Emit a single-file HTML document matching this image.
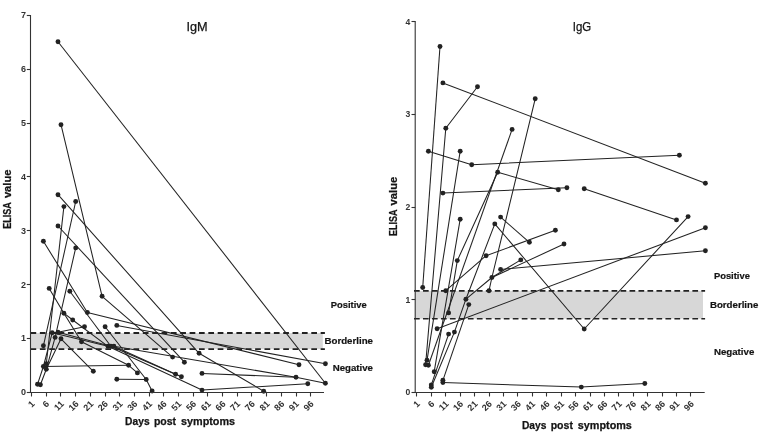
<!DOCTYPE html><html lang="en"><head><meta charset="utf-8"><title>ELISA IgM / IgG</title><style>html,body{margin:0;padding:0;background:#fff}svg{display:block;filter:grayscale(1)}</style></head><body><svg width="759" height="434" viewBox="0 0 759 434">
<rect width="759" height="434" fill="#ffffff"/>
<rect x="30.5" y="333.0" width="292.3" height="16.100000000000023" fill="#d6d7d9"/><g stroke="#222" stroke-width="1.95" stroke-dasharray="5.7 3.66" fill="none"><path d="M30.5 333.0H324.9"/><path d="M30.5 349.1H324.9"/></g>
<rect x="415.2" y="290.9" width="287.8" height="27.80000000000001" fill="#d6d7d9"/><g stroke="#222" stroke-width="1.6" stroke-dasharray="5.7 3.28" fill="none"><path d="M414.0 290.9H705.1"/><path d="M414.0 318.7H705.1"/></g>
<g fill="none" stroke="#222222" stroke-width="1.05" stroke-linejoin="round"><polyline points="58.0,41.8 325.4,383.2"/><polyline points="61.0,124.7 102.1,296.3 172.6,357.1"/><polyline points="58.0,194.7 199.1,353.3 263.7,391.2"/><polyline points="58.0,226.0 184.4,362.2"/><polyline points="43.4,241.3 87.4,312.5 299.0,364.7"/><polyline points="69.8,291.2 110.9,346.3"/><polyline points="49.2,288.4 63.9,313.2 81.5,341.8 128.6,365.3 137.4,372.9"/><polyline points="63.9,313.2 72.7,320.0 108.0,346.3"/><polyline points="37.5,384.3 43.4,366.5 52.2,332.8 58.0,332.3 84.5,326.7"/><polyline points="116.8,325.4 325.4,363.8"/><polyline points="105.1,326.7 146.2,379.5 152.1,391.0"/><polyline points="116.8,379.3 146.2,379.5"/><polyline points="113.9,346.3 175.6,374.3"/><polyline points="110.9,346.3 181.4,376.7"/><polyline points="108.0,346.3 202.0,390.1 307.8,383.7"/><polyline points="202.0,373.4 296.0,377.3"/><polyline points="52.2,332.8 108.0,346.3"/><polyline points="58.0,332.3 110.9,346.3"/><polyline points="113.9,346.3 296.0,377.3 325.4,383.2"/><polyline points="40.4,384.8 46.3,369.3 55.1,337.4 75.7,247.9"/><polyline points="43.4,345.8 75.7,201.5"/><polyline points="46.3,363.8 63.9,206.6"/><polyline points="43.4,366.5 128.6,365.3"/><polyline points="46.3,369.3 61.0,338.8 93.3,371.3"/></g><g fill="#222222"><circle cx="58.0" cy="41.8" r="2.45"/><circle cx="61.0" cy="124.7" r="2.45"/><circle cx="58.0" cy="194.7" r="2.45"/><circle cx="75.7" cy="201.5" r="2.45"/><circle cx="63.9" cy="206.6" r="2.45"/><circle cx="58.0" cy="226.0" r="2.45"/><circle cx="43.4" cy="241.3" r="2.45"/><circle cx="75.7" cy="247.9" r="2.45"/><circle cx="49.2" cy="288.4" r="2.45"/><circle cx="69.8" cy="291.2" r="2.45"/><circle cx="102.1" cy="296.3" r="2.45"/><circle cx="63.9" cy="313.2" r="2.45"/><circle cx="87.4" cy="312.5" r="2.45"/><circle cx="72.7" cy="320.0" r="2.45"/><circle cx="84.5" cy="326.7" r="2.45"/><circle cx="105.1" cy="326.7" r="2.45"/><circle cx="116.8" cy="325.4" r="2.45"/><circle cx="52.2" cy="332.8" r="2.45"/><circle cx="58.0" cy="332.3" r="2.45"/><circle cx="55.1" cy="337.4" r="2.45"/><circle cx="61.0" cy="338.8" r="2.45"/><circle cx="81.5" cy="341.8" r="2.45"/><circle cx="43.4" cy="345.8" r="2.45"/><circle cx="108.0" cy="346.3" r="2.45"/><circle cx="110.9" cy="346.3" r="2.45"/><circle cx="113.9" cy="346.3" r="2.45"/><circle cx="43.4" cy="366.5" r="2.45"/><circle cx="46.3" cy="363.8" r="2.45"/><circle cx="46.3" cy="369.3" r="2.45"/><circle cx="37.5" cy="384.3" r="2.45"/><circle cx="40.4" cy="384.8" r="2.45"/><circle cx="93.3" cy="371.3" r="2.45"/><circle cx="128.6" cy="365.3" r="2.45"/><circle cx="137.4" cy="372.9" r="2.45"/><circle cx="116.8" cy="379.3" r="2.45"/><circle cx="146.2" cy="379.5" r="2.45"/><circle cx="152.1" cy="391.0" r="2.45"/><circle cx="172.6" cy="357.1" r="2.45"/><circle cx="184.4" cy="362.2" r="2.45"/><circle cx="175.6" cy="374.3" r="2.45"/><circle cx="181.4" cy="376.7" r="2.45"/><circle cx="199.1" cy="353.3" r="2.45"/><circle cx="202.0" cy="373.4" r="2.45"/><circle cx="202.0" cy="390.1" r="2.45"/><circle cx="263.7" cy="391.2" r="2.45"/><circle cx="299.0" cy="364.7" r="2.45"/><circle cx="325.4" cy="363.8" r="2.45"/><circle cx="296.0" cy="377.3" r="2.45"/><circle cx="307.8" cy="383.7" r="2.45"/><circle cx="325.4" cy="383.2" r="2.45"/></g>
<g fill="none" stroke="#222222" stroke-width="1.05" stroke-linejoin="round"><polyline points="422.7,287.5 440.0,46.5"/><polyline points="442.9,82.9 705.4,183.2"/><polyline points="425.6,364.7 445.8,128.3 477.5,86.7"/><polyline points="428.4,151.2 471.7,164.7 679.4,155.3"/><polyline points="427.0,360.3 460.2,151.2"/><polyline points="428.4,365.3 512.1,129.4"/><polyline points="442.9,193.1 566.9,187.8"/><polyline points="584.2,188.8 676.5,219.9"/><polyline points="434.2,371.7 460.2,219.2"/><polyline points="500.6,217.1 529.4,242.3"/><polyline points="448.6,312.9 457.3,260.6 497.7,172.2 558.3,189.7"/><polyline points="445.8,290.7 486.1,255.7 555.4,230.3"/><polyline points="431.3,384.9 448.6,334.1"/><polyline points="431.3,387.2 454.4,332.1 465.9,299.2 494.8,223.9 584.2,329.0 688.1,216.6"/><polyline points="465.9,299.2 491.9,277.5 535.2,98.8"/><polyline points="491.9,277.5 564.0,244.0"/><polyline points="491.9,277.5 520.8,259.9"/><polyline points="489.0,290.7 491.9,277.5"/><polyline points="500.6,269.4 705.4,250.8"/><polyline points="437.1,328.7 705.4,227.7"/><polyline points="442.9,380.3 468.8,304.6"/><polyline points="442.9,382.5 581.3,387.1 644.8,383.5"/></g><g fill="#222222"><circle cx="440.0" cy="46.5" r="2.45"/><circle cx="442.9" cy="82.9" r="2.45"/><circle cx="477.5" cy="86.7" r="2.45"/><circle cx="535.2" cy="98.8" r="2.45"/><circle cx="445.8" cy="128.3" r="2.45"/><circle cx="512.1" cy="129.4" r="2.45"/><circle cx="428.4" cy="151.2" r="2.45"/><circle cx="460.2" cy="151.2" r="2.45"/><circle cx="471.7" cy="164.7" r="2.45"/><circle cx="497.7" cy="172.2" r="2.45"/><circle cx="442.9" cy="193.1" r="2.45"/><circle cx="558.3" cy="189.7" r="2.45"/><circle cx="566.9" cy="187.8" r="2.45"/><circle cx="584.2" cy="188.8" r="2.45"/><circle cx="460.2" cy="219.2" r="2.45"/><circle cx="500.6" cy="217.1" r="2.45"/><circle cx="494.8" cy="223.9" r="2.45"/><circle cx="555.4" cy="230.3" r="2.45"/><circle cx="529.4" cy="242.3" r="2.45"/><circle cx="486.1" cy="255.7" r="2.45"/><circle cx="457.3" cy="260.6" r="2.45"/><circle cx="520.8" cy="259.9" r="2.45"/><circle cx="500.6" cy="269.4" r="2.45"/><circle cx="491.9" cy="277.5" r="2.45"/><circle cx="422.7" cy="287.5" r="2.45"/><circle cx="445.8" cy="290.7" r="2.45"/><circle cx="489.0" cy="290.7" r="2.45"/><circle cx="465.9" cy="299.2" r="2.45"/><circle cx="468.8" cy="304.6" r="2.45"/><circle cx="448.6" cy="312.9" r="2.45"/><circle cx="437.1" cy="328.7" r="2.45"/><circle cx="454.4" cy="332.1" r="2.45"/><circle cx="448.6" cy="334.1" r="2.45"/><circle cx="425.6" cy="364.7" r="2.45"/><circle cx="428.4" cy="365.3" r="2.45"/><circle cx="427.0" cy="360.3" r="2.45"/><circle cx="434.2" cy="371.7" r="2.45"/><circle cx="431.3" cy="384.9" r="2.45"/><circle cx="431.3" cy="387.2" r="2.45"/><circle cx="442.9" cy="380.3" r="2.45"/><circle cx="442.9" cy="382.5" r="2.45"/><circle cx="679.4" cy="155.3" r="2.45"/><circle cx="705.4" cy="183.2" r="2.45"/><circle cx="676.5" cy="219.9" r="2.45"/><circle cx="688.1" cy="216.6" r="2.45"/><circle cx="705.4" cy="227.7" r="2.45"/><circle cx="705.4" cy="250.8" r="2.45"/><circle cx="564.0" cy="244.0" r="2.45"/><circle cx="584.2" cy="329.0" r="2.45"/><circle cx="581.3" cy="387.1" r="2.45"/><circle cx="644.8" cy="383.5" r="2.45"/></g>
<g stroke="#333" stroke-width="1.1" fill="none" stroke-linecap="butt"><path d="M30.5 15.0V392.5H324.0"/><path d="M26.8 392.50H30.5"/><path d="M26.8 338.50H30.5"/><path d="M26.8 284.50H30.5"/><path d="M26.8 230.50H30.5"/><path d="M26.8 176.50H30.5"/><path d="M26.8 123.50H30.5"/><path d="M26.8 69.50H30.5"/><path d="M26.8 15.50H30.5"/><path d="M31.50 392.5V396.5"/><path d="M46.50 392.5V396.5"/><path d="M60.50 392.5V396.5"/><path d="M75.50 392.5V396.5"/><path d="M90.50 392.5V396.5"/><path d="M105.50 392.5V396.5"/><path d="M119.50 392.5V396.5"/><path d="M134.50 392.5V396.5"/><path d="M149.50 392.5V396.5"/><path d="M163.50 392.5V396.5"/><path d="M178.50 392.5V396.5"/><path d="M193.50 392.5V396.5"/><path d="M207.50 392.5V396.5"/><path d="M222.50 392.5V396.5"/><path d="M237.50 392.5V396.5"/><path d="M251.50 392.5V396.5"/><path d="M266.50 392.5V396.5"/><path d="M281.50 392.5V396.5"/><path d="M296.50 392.5V396.5"/><path d="M310.50 392.5V396.5"/></g><g font-family="Liberation Sans, Arial, sans-serif" font-weight="bold" font-size="9" fill="#333"><text x="25.9" y="395.30" text-anchor="end" font-size="9">0</text><text x="25.9" y="341.47" text-anchor="end" font-size="9">1</text><text x="25.9" y="287.64" text-anchor="end" font-size="9">2</text><text x="25.9" y="233.81" text-anchor="end" font-size="9">3</text><text x="25.9" y="179.98" text-anchor="end" font-size="9">4</text><text x="25.9" y="126.15" text-anchor="end" font-size="9">5</text><text x="25.9" y="72.32" text-anchor="end" font-size="9">6</text><text x="25.9" y="18.49" text-anchor="end" font-size="9">7</text><text transform="translate(35.20 404.50) rotate(-45)" text-anchor="end">1</text><text transform="translate(49.89 404.50) rotate(-45)" text-anchor="end">6</text><text transform="translate(64.58 404.50) rotate(-45)" text-anchor="end">11</text><text transform="translate(79.27 404.50) rotate(-45)" text-anchor="end">16</text><text transform="translate(93.96 404.50) rotate(-45)" text-anchor="end">21</text><text transform="translate(108.65 404.50) rotate(-45)" text-anchor="end">26</text><text transform="translate(123.34 404.50) rotate(-45)" text-anchor="end">31</text><text transform="translate(138.03 404.50) rotate(-45)" text-anchor="end">36</text><text transform="translate(152.72 404.50) rotate(-45)" text-anchor="end">41</text><text transform="translate(167.41 404.50) rotate(-45)" text-anchor="end">46</text><text transform="translate(182.10 404.50) rotate(-45)" text-anchor="end">51</text><text transform="translate(196.79 404.50) rotate(-45)" text-anchor="end">56</text><text transform="translate(211.48 404.50) rotate(-45)" text-anchor="end">61</text><text transform="translate(226.17 404.50) rotate(-45)" text-anchor="end">66</text><text transform="translate(240.86 404.50) rotate(-45)" text-anchor="end">71</text><text transform="translate(255.55 404.50) rotate(-45)" text-anchor="end">76</text><text transform="translate(270.24 404.50) rotate(-45)" text-anchor="end">81</text><text transform="translate(284.93 404.50) rotate(-45)" text-anchor="end">86</text><text transform="translate(299.62 404.50) rotate(-45)" text-anchor="end">91</text><text transform="translate(314.31 404.50) rotate(-45)" text-anchor="end">96</text></g>
<g stroke="#333" stroke-width="1.1" fill="none" stroke-linecap="butt"><path d="M415.2 21.0V392.5H704.7"/><path d="M411.5 392.50H415.2"/><path d="M411.5 299.50H415.2"/><path d="M411.5 207.50H415.2"/><path d="M411.5 114.50H415.2"/><path d="M411.5 21.50H415.2"/><path d="M416.50 392.5V396.5"/><path d="M431.50 392.5V396.5"/><path d="M445.50 392.5V396.5"/><path d="M460.50 392.5V396.5"/><path d="M474.50 392.5V396.5"/><path d="M489.50 392.5V396.5"/><path d="M503.50 392.5V396.5"/><path d="M517.50 392.5V396.5"/><path d="M532.50 392.5V396.5"/><path d="M546.50 392.5V396.5"/><path d="M561.50 392.5V396.5"/><path d="M575.50 392.5V396.5"/><path d="M590.50 392.5V396.5"/><path d="M604.50 392.5V396.5"/><path d="M618.50 392.5V396.5"/><path d="M633.50 392.5V396.5"/><path d="M647.50 392.5V396.5"/><path d="M662.50 392.5V396.5"/><path d="M676.50 392.5V396.5"/><path d="M690.50 392.5V396.5"/></g><g font-family="Liberation Sans, Arial, sans-serif" font-weight="bold" font-size="9" fill="#333"><text x="410.2" y="395.35" text-anchor="end" font-size="8.6">0</text><text x="410.2" y="302.71" text-anchor="end" font-size="8.6">1</text><text x="410.2" y="210.07" text-anchor="end" font-size="8.6">2</text><text x="410.2" y="117.43" text-anchor="end" font-size="8.6">3</text><text x="410.2" y="24.79" text-anchor="end" font-size="8.6">4</text><text transform="translate(420.50 404.50) rotate(-45)" text-anchor="end">1</text><text transform="translate(434.93 404.50) rotate(-45)" text-anchor="end">6</text><text transform="translate(449.35 404.50) rotate(-45)" text-anchor="end">11</text><text transform="translate(463.77 404.50) rotate(-45)" text-anchor="end">16</text><text transform="translate(478.20 404.50) rotate(-45)" text-anchor="end">21</text><text transform="translate(492.62 404.50) rotate(-45)" text-anchor="end">26</text><text transform="translate(507.05 404.50) rotate(-45)" text-anchor="end">31</text><text transform="translate(521.48 404.50) rotate(-45)" text-anchor="end">36</text><text transform="translate(535.90 404.50) rotate(-45)" text-anchor="end">41</text><text transform="translate(550.32 404.50) rotate(-45)" text-anchor="end">46</text><text transform="translate(564.75 404.50) rotate(-45)" text-anchor="end">51</text><text transform="translate(579.17 404.50) rotate(-45)" text-anchor="end">56</text><text transform="translate(593.60 404.50) rotate(-45)" text-anchor="end">61</text><text transform="translate(608.02 404.50) rotate(-45)" text-anchor="end">66</text><text transform="translate(622.45 404.50) rotate(-45)" text-anchor="end">71</text><text transform="translate(636.88 404.50) rotate(-45)" text-anchor="end">76</text><text transform="translate(651.30 404.50) rotate(-45)" text-anchor="end">81</text><text transform="translate(665.73 404.50) rotate(-45)" text-anchor="end">86</text><text transform="translate(680.15 404.50) rotate(-45)" text-anchor="end">91</text><text transform="translate(694.57 404.50) rotate(-45)" text-anchor="end">96</text></g>
<g>
<text font-family="Liberation Sans, Arial, sans-serif" fill="#141414" font-size="13.1" stroke="#141414" stroke-width="0.25" x="186.5" y="31.2" textLength="21.2" lengthAdjust="spacingAndGlyphs">IgM</text>
<text font-family="Liberation Sans, Arial, sans-serif" fill="#141414" font-size="13.1" stroke="#141414" stroke-width="0.25" x="572.8" y="31.2" textLength="18.5" lengthAdjust="spacingAndGlyphs">IgG</text>
<text font-family="Liberation Sans, Arial, sans-serif" fill="#141414" font-weight="bold" stroke="#141414" stroke-width="0.25" font-size="10.7" x="125.1" y="424.5" textLength="24.5" lengthAdjust="spacingAndGlyphs">Days</text>
<text font-family="Liberation Sans, Arial, sans-serif" fill="#141414" font-weight="bold" stroke="#141414" stroke-width="0.25" font-size="10.7" x="153.9" y="424.5" textLength="22.2" lengthAdjust="spacingAndGlyphs">post</text>
<text font-family="Liberation Sans, Arial, sans-serif" fill="#141414" font-weight="bold" stroke="#141414" stroke-width="0.25" font-size="10.7" x="181.0" y="424.5" textLength="54.1" lengthAdjust="spacingAndGlyphs">symptoms</text>
<text font-family="Liberation Sans, Arial, sans-serif" fill="#141414" font-weight="bold" stroke="#141414" stroke-width="0.25" font-size="10.7" x="521.9" y="429.0" textLength="24.5" lengthAdjust="spacingAndGlyphs">Days</text>
<text font-family="Liberation Sans, Arial, sans-serif" fill="#141414" font-weight="bold" stroke="#141414" stroke-width="0.25" font-size="10.7" x="550.7" y="429.0" textLength="22.2" lengthAdjust="spacingAndGlyphs">post</text>
<text font-family="Liberation Sans, Arial, sans-serif" fill="#141414" font-weight="bold" stroke="#141414" stroke-width="0.25" font-size="10.7" x="577.8" y="429.0" textLength="54.1" lengthAdjust="spacingAndGlyphs">symptoms</text>
<text font-family="Liberation Sans, Arial, sans-serif" fill="#141414" font-weight="bold" stroke="#141414" stroke-width="0.25" font-size="10.7" transform="translate(11.3 228.7) rotate(-90)" textLength="26.6" lengthAdjust="spacingAndGlyphs">ELISA</text>
<text font-family="Liberation Sans, Arial, sans-serif" fill="#141414" font-weight="bold" stroke="#141414" stroke-width="0.25" font-size="10.7" transform="translate(11.3 198.1) rotate(-90)" textLength="28.6" lengthAdjust="spacingAndGlyphs">value</text>
<text font-family="Liberation Sans, Arial, sans-serif" fill="#141414" font-weight="bold" stroke="#141414" stroke-width="0.25" font-size="10.7" transform="translate(397.3 236.0) rotate(-90)" textLength="26.6" lengthAdjust="spacingAndGlyphs">ELISA</text>
<text font-family="Liberation Sans, Arial, sans-serif" fill="#141414" font-weight="bold" stroke="#141414" stroke-width="0.25" font-size="10.7" transform="translate(397.3 205.4) rotate(-90)" textLength="28.6" lengthAdjust="spacingAndGlyphs">value</text>
<text font-family="Liberation Sans, Arial, sans-serif" fill="#141414" font-weight="bold" font-size="9.8" stroke="#141414" stroke-width="0.2" x="330.8" y="307.7" textLength="36" lengthAdjust="spacingAndGlyphs">Positive</text>
<text font-family="Liberation Sans, Arial, sans-serif" fill="#141414" font-weight="bold" font-size="9.8" stroke="#141414" stroke-width="0.2" x="324.5" y="343.5" textLength="48.5" lengthAdjust="spacingAndGlyphs">Borderline</text>
<text font-family="Liberation Sans, Arial, sans-serif" fill="#141414" font-weight="bold" font-size="9.8" stroke="#141414" stroke-width="0.2" x="332.7" y="370.8" textLength="40.3" lengthAdjust="spacingAndGlyphs">Negative</text>
<text font-family="Liberation Sans, Arial, sans-serif" fill="#141414" font-weight="bold" font-size="9.8" stroke="#141414" stroke-width="0.2" x="713.9" y="278.7" textLength="36" lengthAdjust="spacingAndGlyphs">Positive</text>
<text font-family="Liberation Sans, Arial, sans-serif" fill="#141414" font-weight="bold" font-size="9.8" stroke="#141414" stroke-width="0.2" x="709.9" y="308.1" textLength="48.5" lengthAdjust="spacingAndGlyphs">Borderline</text>
<text font-family="Liberation Sans, Arial, sans-serif" fill="#141414" font-weight="bold" font-size="9.8" stroke="#141414" stroke-width="0.2" x="713.9" y="354.9" textLength="40.4" lengthAdjust="spacingAndGlyphs">Negative</text>
</g>
</svg></body></html>
